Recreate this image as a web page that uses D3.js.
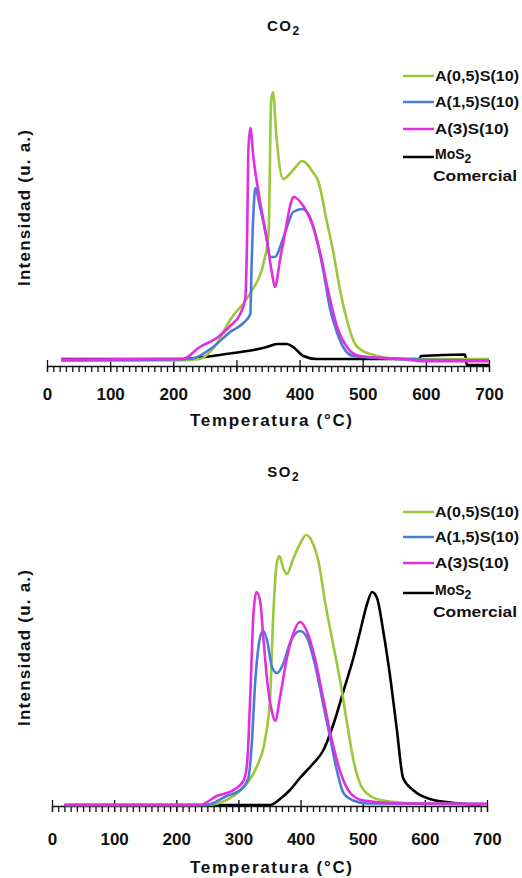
<!DOCTYPE html>
<html lang="es">
<head>
<meta charset="UTF-8">
<title>CO2 / SO2</title>
<script src="https://d3js.org/d3.v7.min.js"></script>
<style>
  body {margin:0; background:#fff;}
  text {font-family:"Liberation Sans", Arial, sans-serif; font-weight:bold; fill:#111;}
  .axis path, .axis line {stroke:#111; stroke-width:1.3;}
  .trace {fill:none; stroke-width:2.6; stroke-linejoin:round;}
</style>
</head>
<body>
<div id="chart"></div>
<script>
// series names + colours
var names = ["A(0,5)S(10)", "A(1,5)S(10)", "A(3)S(10)", "MoS2"];
var colors = ["#9dc73a", "#4b7bd4", "#e02ee0", "#000000"];
var majorTicks = [0, 100, 200, 300, 400, 500, 600, 700];

// CO2 panel, [temperatura, intensidad]
var co2A05 = [[23,0.5],[200,0.5],[242,1],[265,5],[290,14],[322,23],[343,33],[351,43],[355,87],[358,90],[363,76],[374,61],
  [390,64],[404,67],[422,63],[430,60],[443,47],[454,36],[464,24],[475,14],[488,6],[507,3],[560,1],[700,1]];
var co2A15 = [[23,0.5],[225,1],[263,5],[290,10],[311,13],[322,16],[324,32],[327,50],[330,58],[337,52],[348,41],[353,35],
  [361,35],[372,40],[380,45],[390,50],[404,51],[417,48],[427,41],[438,30],[448,18],[459,10],[469,5],[485,2],[560,1],[700,0.5]];
var co2A3 = [[23,0.8],[215,1],[242,5],[269,8],[290,12],[306,16],[314,21],[317,43],[319,71],[322,78],[327,68],[337,54],
  [348,41],[356,30],[361,25],[369,34],[377,43],[385,52],[390,55],[406,52],[420,46],[433,36],[446,23],[459,12],[475,5],
  [495,2],[560,1],[600,0.3],[700,0.3]];
var co2MoS2 = [[23,1],[213,1],[242,1.5],[295,3],[327,4],[348,5],[364,6],[380,6],[390,5],[406,2],[427,1],[590,1],
  [592,2],[662,2.5],[665,-1],[700,-1]];

// SO2 panel
var so2A05 = [[20,0],[249,0],[292,3],[313,7],[330,13],[343,22],[351,36],[356,63],[362,81],[366,83],[372,79],[378,77],
  [388,82],[399,87],[409,90],[418,88],[429,81],[440,67],[453,53],[464,41],[475,27],[485,15],[496,7],[512,3],[533,1.5],
  [590,0.5],[700,0.3]];
var so2A15 = [[20,0],[249,0],[281,3],[303,5],[316,9],[321,19],[327,41],[335,56],[340,58],[346,55],[354,46],[362,44],
  [372,47],[383,54],[399,58],[410,56],[423,47],[436,34],[448,22],[459,11],[469,4],[485,1.5],[507,0.5],[700,0.3]];
var so2A3 = [[20,0],[238,0],[265,3],[292,5],[308,8],[314,14],[319,36],[324,63],[329,71],[335,68],[340,56],[346,42],
  [354,31],[359,28],[367,36],[378,49],[388,57],[399,61],[410,58],[423,49],[436,36],[450,22],[464,11],[480,4],[501,1.5],
  [560,0.5],[700,0.4]];
var so2MoS2 = [[20,0],[351,0],[367,2],[383,5],[399,9],[421,14],[436,18],[453,27],[469,38],[485,49],[496,58],[507,67],
  [515,71],[523,69],[533,58],[544,43],[555,25],[565,9],[581,5],[608,2],[656,0.5],[690,0]];

var panels = [
  {title:"CO", x0:47, x1:489, axisY:366, base:362, titleY:31, labelPad:16, xTitleY:426, yTitleY:208,
   legendY:[76, 102, 129, 157], series:[co2A05, co2A15, co2A3, co2MoS2]},
  {title:"SO", x0:52, x1:487, axisY:806, base:805, titleY:477, labelPad:21, xTitleY:873, yTitleY:648,
   legendY:[512, 537, 563, 593], series:[so2A05, so2A15, so2A3, so2MoS2]}
];

var svg = d3.select("#chart").append("svg")
    .attr("width", 522)
    .attr("height", 878);

panels.forEach(function(p) {
  var x = d3.scaleLinear().domain([0, 700]).range([p.x0, p.x1]);
  var y = d3.scaleLinear().domain([0, 100]).range([p.base, p.base - 300]);

  var g = svg.append("g");

  // title with subscript
  var t = g.append("text").attr("x", 283).attr("y", p.titleY)
      .attr("text-anchor", "middle").style("font-size", "15px");
  t.append("tspan").text(p.title).attr("letter-spacing", "1.5");
  t.append("tspan").text("2").attr("dy", 4).style("font-size", "12px");

  // minor ticks every 10
  g.append("g").attr("class", "axis")
      .attr("transform", "translate(0," + p.axisY + ")")
      .call(d3.axisBottom(x).tickValues(d3.range(0, 701, 10)).tickSize(6).tickFormat(""))
      .select(".domain").remove();

  var ax = g.append("g").attr("class", "axis")
      .attr("transform", "translate(0," + p.axisY + ")")
      .call(d3.axisBottom(x).tickValues(majorTicks).tickSizeInner(6).tickSizeOuter(0).tickPadding(p.labelPad));
  ax.selectAll(".tick line").attr("y1", -6);
  ax.selectAll(".tick text").style("font-size", "17px").attr("fill", "#111");

  g.append("text").attr("x", 271).attr("y", p.xTitleY)
      .attr("text-anchor", "middle").style("font-size", "17px")
      .attr("textLength", 162).attr("lengthAdjust", "spacing")
      .text("Temperatura (°C)");

  g.append("text")
      .attr("transform", "translate(30," + p.yTitleY + ") rotate(-90)")
      .attr("text-anchor", "middle").style("font-size", "17px")
      .attr("textLength", 156).attr("lengthAdjust", "spacing")
      .text("Intensidad (u. a.)");

  var line = d3.line()
      .x(function(d) { return x(d[0]); })
      .y(function(d) { return y(d[1]); })
      .curve(d3.curveMonotoneX);

  // black first so the coloured ones sit on top
  [3, 0, 1, 2].forEach(function(i) {
    g.append("path").attr("class", "trace")
        .attr("d", line(p.series[i]))
        .attr("stroke", colors[i]);
  });

  // legend
  names.forEach(function(n, i) {
    var ly = p.legendY[i];
    g.append("line").attr("x1", 403).attr("x2", 434).attr("y1", ly).attr("y2", ly)
        .attr("stroke", colors[i]).attr("stroke-width", 2.5);
    if (i < 3) {
      g.append("text").attr("x", 435).attr("y", ly + 5).style("font-size", "14px")
          .attr("textLength", i == 2 ? 74 : 84).attr("lengthAdjust", "spacingAndGlyphs")
          .text(n);
    } else {
      var m = g.append("text").attr("x", 435).attr("y", ly + 2).style("font-size", "14px");
      m.append("tspan").text("MoS");
      m.append("tspan").text("2").attr("dy", 4).style("font-size", "12px");
      g.append("text").attr("x", 433).attr("y", ly + 24).style("font-size", "14px")
          .attr("textLength", 84).attr("lengthAdjust", "spacingAndGlyphs")
          .text("Comercial");
    }
  });
});
</script>
</body>
</html>
